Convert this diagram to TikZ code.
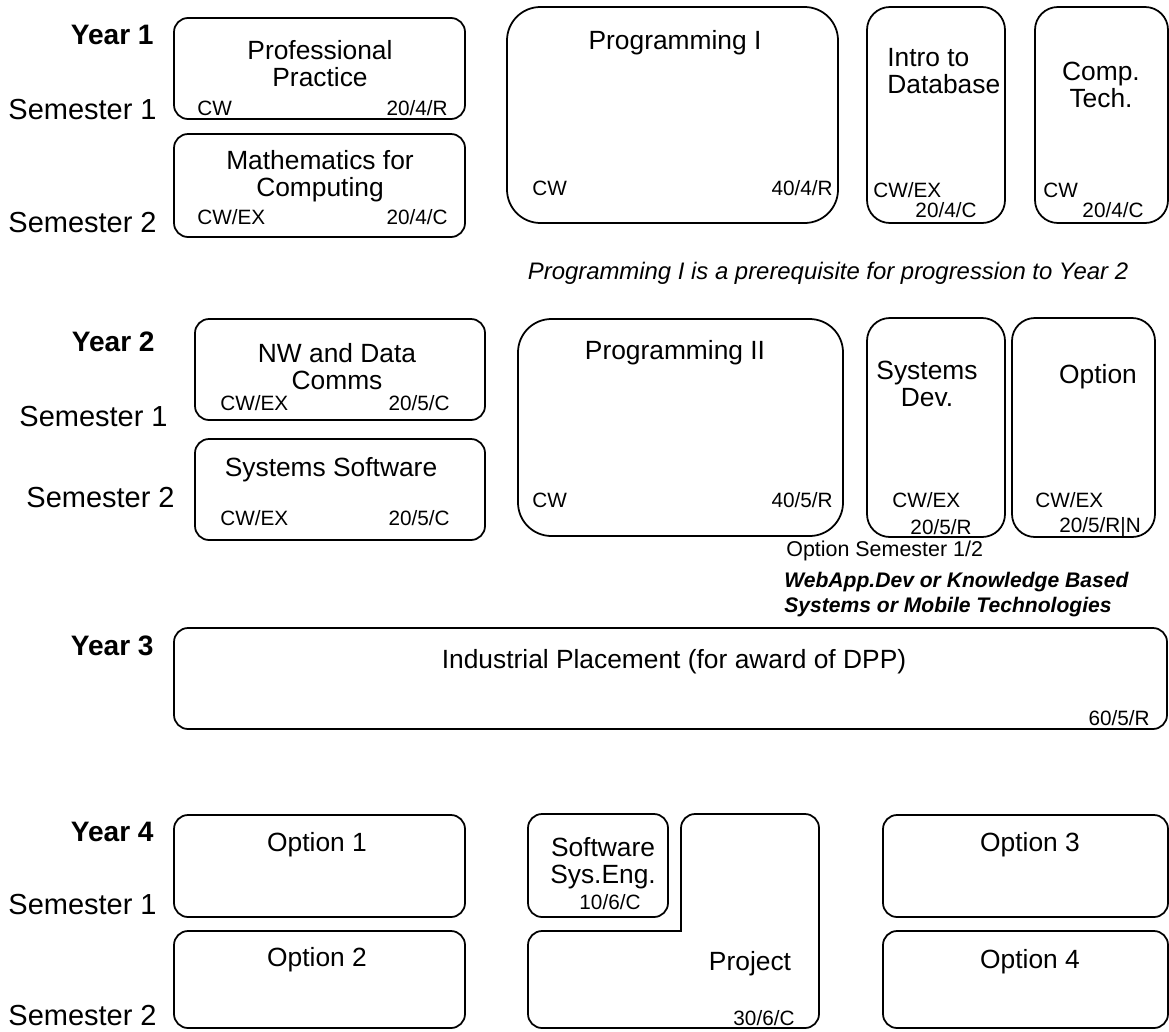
\documentclass[tikz,border=0pt]{standalone}
\usepackage{fontspec}
\setmainfont{Liberation Sans}
\usepackage{tikz}

\tikzset{
  module/.style={line width=1pt, rounded corners=8pt},
  bigmodule/.style={line width=1pt, rounded corners=19pt},
  tallmodule/.style={line width=1pt, rounded corners=13pt},
  title/.style={font=\fontsize{15}{15.3}\selectfont, align=center, inner sep=0pt},
  small/.style={font=\fontsize{11.8}{13}\selectfont, inner sep=0pt},
  yearlbl/.style={font=\fontsize{16}{19}\selectfont\bfseries, anchor=east, inner sep=0pt},
  semlbl/.style={font=\fontsize{16.5}{19}\selectfont, anchor=east, inner sep=0pt}
}

\begin{document}
\begin{tikzpicture}[x=0.02cm, y=-0.02cm]
\useasboundingbox (0,0) rectangle (1169,1031);

\node[yearlbl] (yr1) at (154,35) {Year 1};
\node[semlbl] (y1s1) at (157,110) {Semester 1};
\node[semlbl] (y1s2) at (157,223) {Semester 2};

\draw[module] (174,18) rectangle (465,119);
\node[title] (pp) at (320,64) {Professional\\Practice};
\node[small, anchor=west] (ppa) at (197,108) {CW};
\node[small, anchor=east] (ppc) at (448,108) {20/4/R};

\draw[module] (174,134) rectangle (465,237);
\node[title] (mfc) at (320,176) {Mathematics for\\Computing};
\node[small, anchor=west] (mfca) at (197,217) {CW/EX};
\node[small, anchor=east] (mfcc) at (448,217) {20/4/C};

\draw[bigmodule] (507,7) rectangle (838,223);
\node[title] (p1) at (675,43) {Programming I};
\node[small, anchor=west] (p1a) at (532,188) {CW};
\node[small, anchor=east] (p1c) at (833,188) {40/4/R};

\draw[tallmodule] (867,7) rectangle (1005,223);
\node[title, align=left, anchor=west] (idb) at (887,71) {Intro to\\Database};
\node[small, anchor=west] (idba) at (873,190) {CW/EX};
\node[small] (idbc) at (946,210) {20/4/C};

\draw[tallmodule] (1035,7) rectangle (1168,223);
\node[title] (ct) at (1101,85) {Comp.\\Tech.};
\node[small, anchor=west] (cta) at (1043,190) {CW};
\node[small] (ctc) at (1113,210) {20/4/C};

\node[font=\fontsize{13.6}{16}\selectfont\itshape, inner sep=0pt] (prereq) at (828,273) {Programming I is a prerequisite for progression to Year 2};

\node[yearlbl] (yr2) at (155,342) {Year 2};
\node[semlbl] (y2s1) at (168,417) {Semester 1};
\node[semlbl] (y2s2) at (175,498) {Semester 2};

\draw[module] (195,319) rectangle (485,420);
\node[title] (nwdc) at (337,367) {NW and Data\\Comms};
\node[small, anchor=west] (nwdca) at (220,403) {CW/EX};
\node[small, anchor=east] (nwdcc) at (450,403) {20/5/C};

\draw[module] (195,439) rectangle (485,540);
\node[title] (ss) at (331,470) {Systems Software};
\node[small, anchor=west] (ssa) at (220,518) {CW/EX};
\node[small, anchor=east] (ssc) at (450,518) {20/5/C};

\draw[bigmodule] (518,319) rectangle (843,536);
\node[title] (p2) at (675,353) {Programming II};
\node[small, anchor=west] (p2a) at (532,500) {CW};
\node[small, anchor=east] (p2c) at (833,500) {40/5/R};

\draw[tallmodule] (867,318) rectangle (1005,537);
\node[title] (sd) at (927,384) {Systems\\Dev.};
\node[small, anchor=west] (sda) at (892,500) {CW/EX};
\node[small] (sdc) at (941,527) {20/5/R};

\draw[tallmodule] (1012,318) rectangle (1155,537);
\node[title] (opt) at (1098,377) {Option};
\node[small, anchor=west] (opta) at (1035,500) {CW/EX};
\node[small, anchor=west] (optc) at (1059,527) {20/5/R|N};

\node[small, font=\fontsize{12.2}{13}\selectfont, anchor=west] (optsem) at (786,551) {Option Semester 1/2};
\node[small, font=\fontsize{12}{14.2}\selectfont\bfseries\itshape, align=left, anchor=west] (optlist) at (784,594.5) {WebApp.Dev or Knowledge Based\\Systems or Mobile Technologies};

\node[yearlbl] (yr3) at (154,646) {Year 3};
\draw[module] (174,628) rectangle (1167,729);
\node[title] (ip) at (674,662) {Industrial Placement (for award of DPP)};
\node[small, anchor=east] (ipc) at (1150,718) {60/5/R};

\node[yearlbl] (yr4) at (154,832) {Year 4};
\node[semlbl] (y4s1) at (157,905) {Semester 1};
\node[semlbl, anchor=base east] (y4s2) at (157,1025) {Semester 2};

\draw[module] (174,815) rectangle (465,917);
\node[title] (o1) at (317,845) {Option 1};
\draw[module] (174,931) rectangle (465,1028);
\node[title] (o2) at (317,960) {Option 2};

\draw[module] (528,814) rectangle (668,917);
\node[title] (sse) at (603,863) {Software\\Sys.Eng.};
\node[small] (ssec) at (610,902) {10/6/C};

\draw[line width=1pt] (600,931) [rounded corners=8pt] -- (528,931) -- (528,1028) -- (819,1028) -- (819,814) -- (681,814) [sharp corners] -- (681,931) -- cycle;
\node[title] (proj) at (750,964) {Project};
\node[small] (projc) at (764,1018) {30/6/C};

\draw[module] (883,815) rectangle (1168,917);
\node[title] (o3) at (1030,845) {Option 3};
\draw[module] (883,931) rectangle (1168,1028);
\node[title] (o4) at (1030,962) {Option 4};
\end{tikzpicture}
\end{document}
